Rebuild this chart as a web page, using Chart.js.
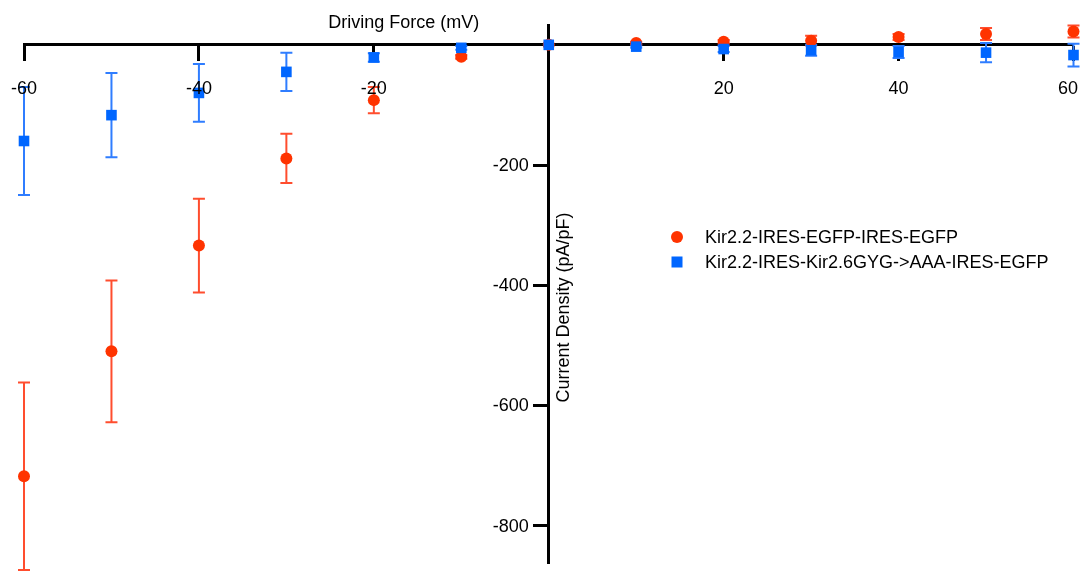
<!DOCTYPE html>
<html>
<head>
<meta charset="utf-8">
<script src="https://cdn.jsdelivr.net/npm/chart.js@4"></script>
<style>
  html, body { margin: 0; padding: 0; background: #fff; }
  #wrap { width: 1081px; height: 571px; }
</style>
</head>
<body>
<div id="wrap"><canvas id="myChart" width="1081" height="571"></canvas></div>
<script>
// driving force (mV)
const drivingForce = [-60, -50, -40, -30, -20, -10, 0, 10, 20, 30, 40, 50, 60];

// Kir2.2-IRES-EGFP-IRES-EGFP
const redMean = [-718, -510, -334, -189, -92, -20, 0, 3, 5, 7, 13, 18, 22];
const redErr = [156, 118, 78, 41, 22, 3, 0, 2, 3, 8, 5, 10, 10];

// Kir2.2-IRES-Kir2.6GYG->AAA-IRES-EGFP
const blueMean = [-160, -117, -80, -45, -21, -5, 0, -3, -7, -9, -12, -13, -17];
const blueErr = [90, 70, 48, 32, 7, 3, 0, 2, 5, 9, 10, 16, 19];

const xTicks = [-60, -40, -20, 20, 40, 60];
const yTicks = [-800, -600, -400, -200];

const seriesNames = [
  "Kir2.2-IRES-EGFP-IRES-EGFP",
  "Kir2.2-IRES-Kir2.6GYG->AAA-IRES-EGFP",
];

const RED = "#ff3300";
const BLUE = "#0066ff";
const FONT = "'Liberation Sans', Arial, Helvetica, sans-serif";

function toPoints(xs, ys, errs) {
  return xs.map((x, i) => ({ x: x, y: ys[i], err: errs[i] }));
}

// axes sit inside the plot, so they should take no room
function noRoom(scale) {
  if (scale.isHorizontal()) scale.height = 0;
  else scale.width = 0;
  scale.paddingLeft = 0;
  scale.paddingRight = 0;
  scale.paddingTop = 0;
  scale.paddingBottom = 0;
}

// error bars drawn under the markers
const errorBars = {
  id: "errorBars",
  beforeDatasetsDraw(chart) {
    const ctx = chart.ctx;
    const xs = chart.scales.x;
    const ys = chart.scales.y;
    chart.data.datasets.forEach((ds) => {
      ctx.save();
      ctx.strokeStyle = ds.errColor;
      ctx.lineWidth = 2;
      ds.data.forEach((p) => {
        if (!p.err) return;
        const px = xs.getPixelForValue(p.x);
        const top = ys.getPixelForValue(p.y + p.err);
        const bot = ys.getPixelForValue(p.y - p.err);
        ctx.beginPath();
        ctx.moveTo(px, top);
        ctx.lineTo(px, bot);
        ctx.moveTo(px - 6, top);
        ctx.lineTo(px + 6, top);
        ctx.moveTo(px - 6, bot);
        ctx.lineTo(px + 6, bot);
        ctx.stroke();
      });
      ctx.restore();
    });
  },
};

// tick labels, titles and legend
const decorations = {
  id: "decorations",
  afterDraw(chart) {
    const ctx = chart.ctx;
    const xs = chart.scales.x;
    const ys = chart.scales.y;
    const x0 = xs.getPixelForValue(0);
    const y0 = ys.getPixelForValue(0);
    ctx.save();
    ctx.fillStyle = "#000";
    ctx.font = "18px " + FONT;
    ctx.textBaseline = "middle";

    // x tick labels, kept inside the canvas
    ctx.textAlign = "center";
    xTicks.forEach((v) => {
      const label = String(v);
      const half = ctx.measureText(label).width / 2;
      const px = Math.min(xs.getPixelForValue(v), chart.width - half - 3);
      ctx.fillText(label, px, y0 + 44);
    });

    // y tick labels
    ctx.textAlign = "right";
    yTicks.forEach((v) => {
      ctx.fillText(String(v), x0 - 20, ys.getPixelForValue(v) + 1);
    });

    // axis titles
    ctx.textAlign = "center";
    ctx.fillText("Driving Force (mV)", x0 - 145, y0 - 22);
    ctx.save();
    ctx.translate(x0 + 15, ys.getPixelForValue(-437));
    ctx.rotate(-Math.PI / 2);
    ctx.fillText("Current Density (pA/pF)", 0, 0);
    ctx.restore();

    // legend
    const lx = 677;
    const ly = 237;
    ctx.fillStyle = RED;
    ctx.beginPath();
    ctx.arc(lx, ly, 6, 0, Math.PI * 2);
    ctx.fill();
    ctx.fillStyle = BLUE;
    ctx.fillRect(lx - 5.5, ly + 25 - 5.5, 11, 11);
    ctx.fillStyle = "#000";
    ctx.textAlign = "left";
    ctx.fillText(seriesNames[0], lx + 28, ly + 1);
    ctx.fillText(seriesNames[1], lx + 28, ly + 26);
    ctx.restore();
  },
};

new Chart(document.getElementById("myChart").getContext("2d"), {
  type: "scatter",
  data: {
    datasets: [
      {
        label: seriesNames[0],
        data: toPoints(drivingForce, redMean, redErr),
        pointStyle: "circle",
        pointRadius: 6,
        pointBorderWidth: 0,
        backgroundColor: RED,
        borderColor: RED,
        errColor: "#ff4d2e",
        order: 1,
        clip: false,
      },
      {
        label: seriesNames[1],
        data: toPoints(drivingForce, blueMean, blueErr),
        pointStyle: "rect",
        pointRadius: 7.5,
        pointBorderWidth: 0,
        backgroundColor: BLUE,
        borderColor: BLUE,
        errColor: "#2f7dff",
        order: 0,
        clip: false,
      },
    ],
  },
  options: {
    responsive: false,
    animation: false,
    layout: { padding: { left: 24, right: 7, top: 25, bottom: 3 } },
    plugins: {
      legend: { display: false },
      tooltip: { enabled: false },
    },
    scales: {
      x: {
        type: "linear",
        position: { y: 0 },
        min: -60,
        max: 60,
        afterBuildTicks: (scale) => {
          scale.ticks = xTicks.map((v) => ({ value: v }));
        },
        afterFit: noRoom,
        ticks: { display: false },
        grid: {
          drawOnChartArea: false,
          drawTicks: true,
          tickLength: 15,
          tickWidth: 3,
          tickColor: "#000",
        },
        border: { color: "#000", width: 3 },
      },
      y: {
        type: "linear",
        position: { x: 0 },
        min: -863,
        max: 33,
        afterBuildTicks: (scale) => {
          scale.ticks = yTicks.map((v) => ({ value: v }));
        },
        afterFit: noRoom,
        ticks: { display: false },
        grid: {
          drawOnChartArea: false,
          drawTicks: true,
          tickLength: 14,
          tickWidth: 3,
          tickColor: "#000",
        },
        border: { color: "#000", width: 3 },
      },
    },
  },
  plugins: [errorBars, decorations],
});
</script>
</body>
</html>
